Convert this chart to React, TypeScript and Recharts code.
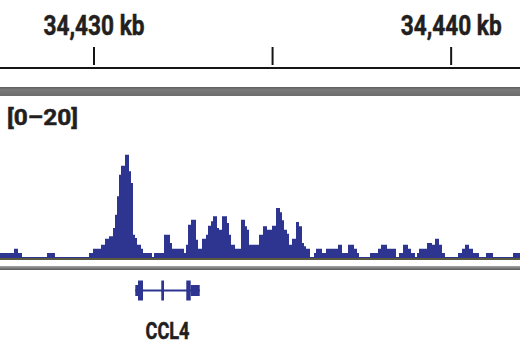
import React from 'react';
import {
  AreaChart,
  Area,
  ComposedChart,
  Line,
  XAxis,
  YAxis,
  ReferenceArea,
  ReferenceLine
} from 'recharts';

// genome window shown (kb)
const START_KB = 34427.368;
const END_KB = 34441.928;

const rulerTicks = [34430, 34435, 34440];
const rulerLabels = ['34,430 kb', '', '34,440 kb'];

const trackRange = [0, 20];
const trackLabel = '[0–20]';

// coverage steps: start of each step (kb) and its value
const stepStartKb = [
  34427.368, 34427.760, 34427.872, 34427.984, 34428.684, 34428.908, 34429.860, 34429.972, 34430.196, 34430.308,
  34430.420, 34430.532, 34430.588, 34430.644, 34430.700, 34430.756, 34430.868, 34430.980, 34431.036, 34431.092,
  34431.148, 34431.204, 34431.316, 34431.372, 34431.624, 34431.680, 34431.960, 34432.128, 34432.184, 34432.520,
  34432.576, 34432.632, 34432.716, 34432.856, 34432.912, 34433.024, 34433.136, 34433.192, 34433.276, 34433.332,
  34433.444, 34433.500, 34433.584, 34433.724, 34433.780, 34433.836, 34433.948, 34434.116, 34434.228, 34434.284,
  34434.340, 34434.620, 34434.732, 34434.844, 34434.984, 34435.096, 34435.208, 34435.264, 34435.320, 34435.404,
  34435.460, 34435.544, 34435.656, 34435.740, 34435.824, 34435.880, 34435.936, 34436.048, 34436.160, 34436.216,
  34436.384, 34436.496, 34436.832, 34436.944, 34437.112, 34437.280, 34437.364, 34437.420, 34437.728, 34437.952,
  34438.036, 34438.204, 34438.456, 34438.540, 34438.652, 34438.792, 34438.876, 34438.988, 34439.044, 34439.100,
  34439.324, 34439.464, 34439.548, 34439.660, 34439.744, 34439.828, 34440.192, 34440.304, 34440.388, 34440.500,
  34440.612, 34440.780, 34440.976, 34441.172, 34441.732
];
const stepValue = [
  0.62, 1.17, 0.62, 0.12, 0.62, 0.12, 0.62, 1.17, 1.67, 2.42,
  2.71, 3.75, 5.42, 7.71, 10.42, 11.54, 12.92, 10.83, 9.37, 2.92,
  2.5, 1.67, 1.17, 0.62, 0.12, 0.62, 2.92, 1.87, 1.17, 0.62,
  1.67, 4.17, 4.79, 2.29, 1.17, 2.42, 2.92, 4.04, 4.58, 5.21,
  3.75, 3.54, 5.21, 4.37, 2.92, 1.67, 1.17, 4.79, 3.96, 3.54,
  1.67, 2.92, 3.96, 3.54, 4.04, 6.25, 5.71, 4.71, 3.54, 3.04,
  1.67, 2.42, 4.5, 3.96, 1.87, 1.46, 1.17, 0.12, 0.62, 1.17,
  0.62, 1.17, 1.67, 0.62, 1.67, 1.17, 0.62, 0.12, 0.62, 1.17,
  1.67, 1.17, 0.12, 0.62, 1.67, 1.17, 0.62, 0.12, 0.62, 1.17,
  1.87, 1.67, 2.42, 1.67, 0.62, 0.12, 0.62, 1.17, 1.67, 1.17,
  0.62, 0.12, 0.62, 0.12, 0.62
];

// CCL4 gene model
const geneName = 'CCL4';
const geneStartKb = 34431.156;
const geneEndKb = 34432.960;
const blockStartKb = [34431.156, 34431.232, 34431.884, 34432.584, 34432.708];
const blockEndKb = [34431.232, 34431.372, 34431.960, 34432.708, 34432.960];
const blockCoding = [false, true, true, true, false];

const BLUE = '#2d3591';
const INK = '#231f20';
const FONT = 'Roboto, "Liberation Sans", sans-serif';
const SQUEEZE = 0.84;

const signalData = stepStartKb.map((kb, i) => ({ kb, v: stepValue[i] }));
signalData.push({ kb: END_KB, v: stepValue[stepValue.length - 1] });

const rulerData = rulerTicks.map(kb => ({ kb, v: 0 }));
const geneData = [{ kb: geneStartKb, y: 0 }, { kb: geneEndKb, y: 0 }];

// condensed bold text: squeeze horizontally so the bbox stays honest
const NarrowText = ({ x, y, width, size, anchor = 'start', children }: any) => (
  <g transform={`translate(${x},${y}) scale(${SQUEEZE},1)`}>
    <text
      x={0}
      y={0}
      textAnchor={anchor}
      fontFamily={FONT}
      fontWeight={700}
      fontSize={size}
      fill={INK}
      stroke={INK}
      strokeWidth={0.5}
      textLength={width / SQUEEZE}
      lengthAdjust="spacingAndGlyphs"
    >
      {children}
    </text>
  </g>
);

const RulerTick = (props: any) => {
  const { x, payload } = props;
  const label = rulerLabels[rulerTicks.indexOf(payload.value)];
  return (
    <g>
      <line x1={x} x2={x} y1={47} y2={65} stroke="#151515" strokeWidth={2} />
      {label ? (
        <NarrowText x={x} y={35} width={101} size={28} anchor="middle">
          {label}
        </NarrowText>
      ) : null}
    </g>
  );
};

export default function App() {
  const geneMidX = ((geneStartKb + geneEndKb) / 2 - START_KB) / (END_KB - START_KB) * 520;
  return (
    <div style={{ position: 'fixed', left: 0, top: 0, width: 520, height: 350, background: '#fff', overflow: 'hidden' }}>
      {/* ruler */}
      <div style={{ position: 'absolute', left: 0, top: 0 }}>
        <ComposedChart width={520} height={70} data={rulerData} margin={{ top: 0, right: 0, bottom: 0, left: 0 }}>
          <XAxis
            orientation="top"
            type="number"
            dataKey="kb"
            domain={[START_KB, END_KB]}
            allowDataOverflow
            ticks={rulerTicks}
            interval={0}
            tick={<RulerTick />}
            tickLine={false}
            axisLine={{ stroke: '#151515', strokeWidth: 2 }}
            height={68}
          />
          <YAxis hide domain={[0, 1]} />
          <Line dataKey="v" stroke="none" dot={false} isAnimationActive={false} />
        </ComposedChart>
      </div>

      {/* track header band */}
      <div style={{ position: 'absolute', left: 0, top: 87, width: 520, height: 9, background: 'linear-gradient(#5e5e5e, #7a7a7a 30%, #6c6c6c)' }} />

      {/* coverage track */}
      <div style={{ position: 'absolute', left: 0, top: 98 }}>
        <AreaChart width={520} height={160} data={signalData} margin={{ top: 0, right: 0, bottom: 0, left: 0 }}>
          <XAxis hide type="number" dataKey="kb" domain={[START_KB, END_KB]} allowDataOverflow />
          <YAxis hide type="number" domain={trackRange} allowDataOverflow />
          <Area
            type="stepAfter"
            dataKey="v"
            stroke="none"
            fill={BLUE}
            fillOpacity={1}
            dot={false}
            activeDot={false}
            isAnimationActive={false}
          />
        </AreaChart>
      </div>

      {/* baseline + separator */}
      <div style={{ position: 'absolute', left: 0, top: 258, width: 520, height: 2, background: '#5b5a3e' }} />
      <div style={{ position: 'absolute', left: 0, top: 266, width: 520, height: 4, background: 'linear-gradient(#a5a5a5, #5a5a5a)' }} />

      {/* gene track */}
      <div style={{ position: 'absolute', left: 0, top: 275 }}>
        <ComposedChart width={520} height={31} data={geneData} margin={{ top: 0, right: 0, bottom: 0, left: 0 }}>
          <XAxis hide type="number" dataKey="kb" domain={[START_KB, END_KB]} allowDataOverflow />
          <YAxis hide type="number" domain={[-1.55, 1.55]} allowDataOverflow />
          <Line dataKey="y" stroke="none" dot={false} activeDot={false} isAnimationActive={false} />
          <ReferenceLine
            segment={[{ x: geneStartKb, y: 0 }, { x: geneEndKb, y: 0 }]}
            stroke={BLUE}
            strokeWidth={2}
          />
          {blockStartKb.map((s, i) => (
            <ReferenceArea
              key={i}
              x1={s}
              x2={blockEndKb[i]}
              y1={blockCoding[i] ? -1 : -0.55}
              y2={blockCoding[i] ? 1 : 0.55}
              fill={BLUE}
              fillOpacity={1}
              stroke="none"
            />
          ))}
        </ComposedChart>
      </div>

      {/* text labels */}
      <svg width={520} height={350} style={{ position: 'absolute', left: 0, top: 0, pointerEvents: 'none' }}>
        <NarrowText x={7} y={125} width={71} size={22}>
          {trackLabel}
        </NarrowText>
        <NarrowText x={geneMidX} y={339} width={44} size={24} anchor="middle">
          {geneName}
        </NarrowText>
      </svg>
    </div>
  );
}
